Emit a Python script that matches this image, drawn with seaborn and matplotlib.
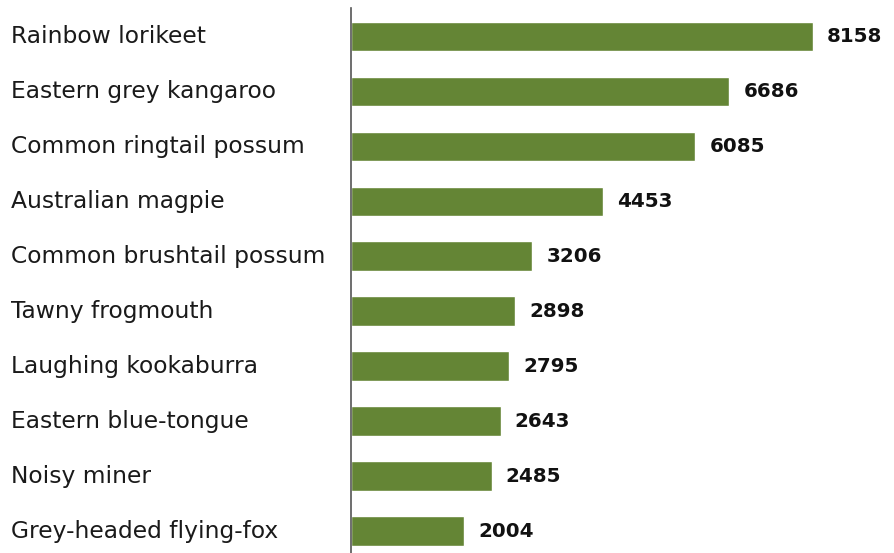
import matplotlib
matplotlib.use('Agg')
import matplotlib.pyplot as plt
import seaborn as sns
import pandas as pd

species = ['Rainbow lorikeet', 'Eastern grey kangaroo', 'Common ringtail possum',
           'Australian magpie', 'Common brushtail possum', 'Tawny frogmouth',
           'Laughing kookaburra', 'Eastern blue-tongue', 'Noisy miner',
           'Grey-headed flying-fox']
counts = [8158, 6686, 6085, 4453, 3206, 2898, 2795, 2643, 2485, 2004]

df = pd.DataFrame({'species': species, 'count': counts})

sns.set_theme(style='white')
plt.rcParams['font.family'] = ['DejaVu Sans']

fig = plt.figure(figsize=(8.95, 5.53), dpi=100)
ax = fig.add_axes([351 / 895, 0, 1 - 351 / 895, (553 - 8) / 553])

sns.barplot(data=df, x='count', y='species', color='#648535', saturation=1,
            width=0.54, ax=ax)

ax.set_xlim(0, 9610)
ax.set_ylim(9.4, -0.52)
ax.set_xlabel('')
ax.set_ylabel('')
ax.set_xticks([])
ax.tick_params(axis='y', length=0, pad=0)
ax.set_yticklabels([])

for s in ['top', 'right', 'bottom']:
    ax.spines[s].set_visible(False)
ax.spines['left'].set_color('#555555')
ax.spines['left'].set_linewidth(1.2)

# category labels, left aligned at the figure edge
for i, name in enumerate(species):
    ax.text(-340 / (544 / 9610), i, name, ha='left', va='center',
            fontsize=16.8, color='#1a1a1a')
    ax.annotate(f'{counts[i]}', xy=(counts[i], i), xytext=(10, 0),
                textcoords='offset points', ha='left', va='center',
                fontsize=14.3, fontweight='bold', color='#111111')

fig.savefig('out.png', dpi=100)
